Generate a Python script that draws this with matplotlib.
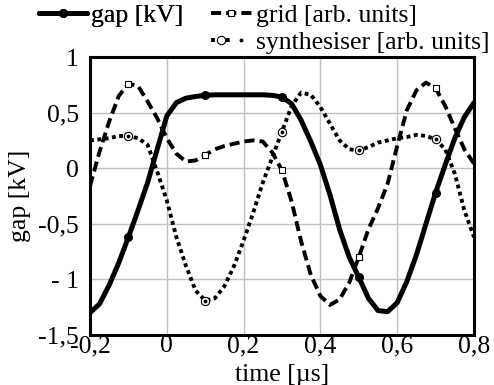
import matplotlib
matplotlib.use("Agg")
import matplotlib.pyplot as plt
from matplotlib.lines import Line2D
from matplotlib.legend_handler import HandlerTuple

plt.rcParams['font.family'] = ['Liberation Serif', 'DejaVu Serif']

FS = 18.5

time = [-0.2, -0.175, -0.15, -0.125, -0.1, -0.075, -0.05, -0.025, 0.0, 0.025,
        0.05, 0.075, 0.1, 0.125, 0.15, 0.175, 0.2, 0.225, 0.25, 0.275,
        0.3, 0.325, 0.35, 0.375, 0.4, 0.425, 0.45, 0.475, 0.5, 0.525,
        0.55, 0.575, 0.6, 0.625, 0.65, 0.675, 0.7, 0.725, 0.75, 0.775, 0.8]

gap = [-1.30, -1.22, -1.05, -0.85, -0.62, -0.38, -0.13, 0.17, 0.47, 0.59,
       0.63, 0.645, 0.655, 0.66, 0.66, 0.66, 0.66, 0.66, 0.66, 0.655,
       0.64, 0.58, 0.43, 0.24, 0.03, -0.24, -0.55, -0.80, -0.98, -1.17,
       -1.28, -1.29, -1.21, -1.02, -0.78, -0.50, -0.22, 0.03, 0.27, 0.46, 0.59]

grid = [-0.16, 0.15, 0.42, 0.65, 0.76, 0.74, 0.60, 0.45, 0.27, 0.13,
        0.06, 0.07, 0.12, 0.17, 0.20, 0.22, 0.24, 0.25, 0.24, 0.14,
        -0.02, -0.30, -0.66, -0.96, -1.15, -1.23, -1.18, -1.03, -0.80, -0.55,
        -0.36, -0.14, 0.20, 0.52, 0.70, 0.77, 0.72, 0.56, 0.36, 0.17, 0.04]

synth = [0.25, 0.26, 0.27, 0.29, 0.29, 0.27, 0.21, -0.03, -0.29, -0.62,
         -0.88, -1.10, -1.19, -1.17, -1.06, -0.88, -0.65, -0.40, -0.13, 0.10,
         0.33, 0.56, 0.68, 0.66, 0.55, 0.40, 0.25, 0.17, 0.16, 0.19,
         0.23, 0.25, 0.27, 0.28, 0.30, 0.29, 0.26, 0.17, -0.05, -0.38, -0.62]

marker_times = [-0.1, 0.1, 0.3, 0.5, 0.7]
mk = [i for i, t in enumerate(time) if any(abs(t - m) < 1e-9 for m in marker_times)]

xticks = [-0.2, 0, 0.2, 0.4, 0.6, 0.8]
xticklabels = ['-0,2', '0', '0,2', '0,4', '0,6', '0,8']
yticks = [-1.5, -1, -0.5, 0, 0.5, 1]
yticklabels = ['-1,5', '- 1', '-0,5', '0', '0,5', '1']

GAP_STYLE = dict(color='black', lw=3.6, marker='o', ms=5.5,
                 solid_joinstyle='round', solid_capstyle='round')
GRID_STYLE = dict(color='black', lw=2.8, dashes=(2.6, 1.3), marker='s', ms=5,
                  mfc='white', mec='black', mew=0.8, dash_joinstyle='round')
SYN_STYLE = dict(color='black', lw=2.8, dashes=(1.0, 0.9), marker='o', ms=6,
                 mfc='white', mec='black', mew=0.8)
DOT_STYLE = dict(ls='none', marker='o', ms=1.8, color='black')

fig = plt.figure(figsize=(4.94, 3.85), dpi=100)
ax = fig.add_axes([90/494, 1-335/385, 384/494, 278/385])

ax.plot(time, gap, markevery=mk, zorder=4, **GAP_STYLE)
ax.plot(time, grid, markevery=mk, zorder=3, **GRID_STYLE)
ax.plot(time, synth, markevery=mk, zorder=3, **SYN_STYLE)
ax.plot([time[i] for i in mk], [synth[i] for i in mk], zorder=3.5, **DOT_STYLE)

ax.set_xlim(-0.2, 0.8)
ax.set_ylim(-1.5, 1)
ax.set_xticks(xticks)
ax.set_xticklabels(xticklabels, fontsize=FS)
ax.set_yticks(yticks)
ax.set_yticklabels(yticklabels, fontsize=FS)
ax.tick_params(length=0)
ax.tick_params(axis='y', pad=8)
ax.tick_params(axis='x', pad=0)
ax.grid(True, color='#c0c0c0', lw=1.0)
ax.set_axisbelow(True)
for s in ax.spines.values():
    s.set_linewidth(2.2)
ax.set_xlabel('time [µs]', fontsize=FS, labelpad=5)
ax.set_ylabel('gap [kV]', fontsize=FS, labelpad=5)

h_gap = Line2D([], [], **GAP_STYLE)
h_grid = Line2D([], [], **GRID_STYLE)
h_syn = Line2D([], [], **SYN_STYLE)
h_syn_dot = Line2D([], [], **DOT_STYLE)

leg1 = fig.legend([h_gap], ['gap [kV]'], loc='upper left',
                  bbox_to_anchor=(36/494, 0.995), frameon=False, fontsize=FS,
                  handlelength=1.9, handletextpad=0.15, borderaxespad=0,
                  borderpad=0.1)
leg2 = fig.legend([h_grid, (h_syn, h_syn_dot)],
                  ['grid [arb. units]', 'synthesiser [arb. units]'],
                  loc='upper left', bbox_to_anchor=(208/494, 0.995),
                  frameon=False, fontsize=FS, handlelength=1.6,
                  handletextpad=0.15, labelspacing=0.15, borderaxespad=0,
                  borderpad=0.1, handler_map={tuple: HandlerTuple(ndivide=None, pad=0)})
fig.add_artist(leg1)

fig.savefig('out.png', dpi=100)
